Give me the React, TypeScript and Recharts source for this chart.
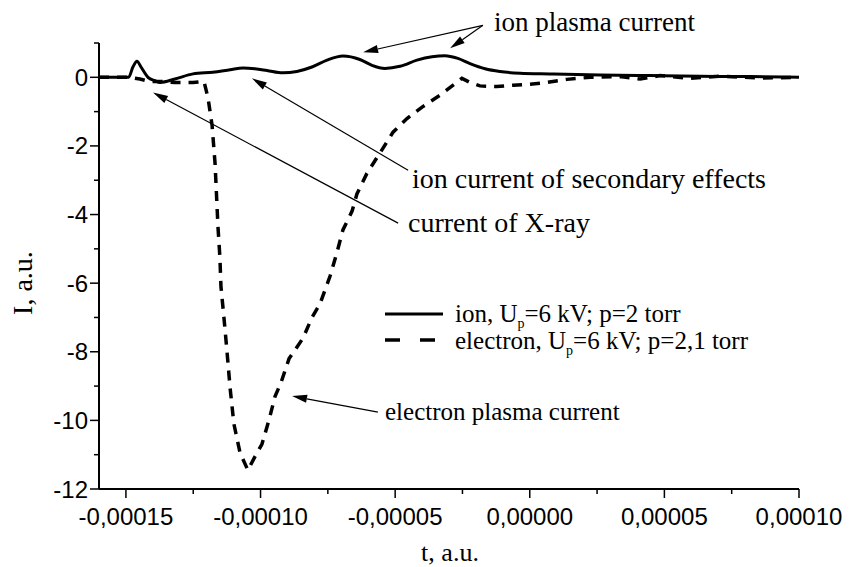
import React from "react";
import { LineChart, Line, XAxis, YAxis, ReferenceLine } from "recharts";

// ion current, solid trace
const ionT = [
  -0.00016, -0.000152, -0.000149, -0.0001474, -0.0001459, -0.0001444, -0.0001418,
  -0.0001392, -0.0001373, -0.0001318, -0.0001251, -0.0001177, -0.0001113, -0.0001065,
  -0.0001021, -0.0000976, -0.0000917, -0.0000865, -0.0000809, -0.0000753, -0.0000694,
  -0.0000631, -0.0000586, -0.0000538, -0.0000482, -0.0000419, -0.0000363, -0.0000315,
  -0.0000267, -0.0000222, -0.0000166, -0.0000111, -0.0000036, 0.0000075, 0.0000261,
  0.0000447, 0.0000632, 0.0000818, 0.0001,
];
const ionI = [
  0, 0, 0, 0.3, 0.47, 0.3, 0, -0.1, -0.15, -0.05, 0.1, 0.15, 0.22, 0.27, 0.25, 0.2, 0.13,
  0.17, 0.3, 0.5, 0.62, 0.52, 0.35, 0.26, 0.32, 0.5, 0.6, 0.63, 0.55, 0.4, 0.25, 0.17, 0.12,
  0.1, 0.07, 0.05, 0.03, 0.02, 0,
];

// electron current, dashed trace
const elT = [
  -0.00016, -0.0001485, -0.0001448, -0.0001411, -0.0001373, -0.0001318, -0.0001251,
  -0.000121, -0.0001195, -0.000118, -0.0001169, -0.0001164, -0.0001158, -0.0001151,
  -0.0001147, -0.0001136, -0.0001125, -0.0001113, -0.0001099, -0.0001076, -0.0001047,
  -0.0001017, -0.0000995, -0.0000969, -0.0000946, -0.0000924, -0.0000894, -0.0000842,
  -0.0000809, -0.0000779, -0.0000742, -0.0000716, -0.0000694, -0.000066, -0.0000642,
  -0.0000605, -0.0000556, -0.0000508, -0.0000456, -0.00004, -0.0000333, -0.0000252,
  -0.0000222, -0.0000185, -0.0000122, -0.0000062, 0.0000001, 0.0000064, 0.0000138,
  0.0000224, 0.0000335, 0.000041, 0.0000484, 0.0000595, 0.0000707, 0.0000855, 0.0001,
];
const elI = [
  0, 0, -0.05, -0.12, -0.12, -0.15, -0.15, -0.12, -0.6, -1.4, -2.5, -3.35, -4.37, -5.24,
  -6.1, -7.0, -7.95, -9.06, -10.1, -10.95, -11.45, -11.0, -10.7, -10.0, -9.3, -8.9, -8.2,
  -7.6, -7.0, -6.6, -5.8, -5.1, -4.45, -3.9, -3.4, -2.8, -2.2, -1.6, -1.2, -0.87, -0.52,
  -0.03, -0.15, -0.25, -0.27, -0.23, -0.2, -0.15, -0.06, 0, 0.02, -0.05, 0.05, -0.03, 0.03,
  -0.02, 0,
];

const xTicks = [
  -0.00015, -0.000125, -0.0001, -0.000075, -0.00005, -0.000025, 0, 0.000025, 0.00005,
  0.000075, 0.0001,
];
const xMajor = [-0.00015, -0.0001, -0.00005, 0, 0.00005, 0.0001];
const yTicks = [1, 0, -1, -2, -3, -4, -5, -6, -7, -8, -9, -10, -11, -12];
const yMajor = [0, -2, -4, -6, -8, -10, -12];

// annotation arrows: tail -> head, in data units
const arrows = [
  { t1: -0.0000174, i1: 1.515, t2: -0.0000619, i2: 0.73 },
  { t1: -0.0000174, i1: 1.515, t2: -0.0000296, i2: 0.845 },
  { t1: -0.0000452, i1: -2.71, t2: -0.0001032, i2: -0.03 },
  { t1: -0.0000489, i1: -4.25, t2: -0.00013994, i2: -0.44 },
  { t1: -0.0000564, i1: -9.76, t2: -0.0000883, i2: -9.29 },
];

const ionData = ionT.map((t, k) => ({ t, i: ionI[k] }));
const elData = elT.map((t, k) => ({ t, i: elI[k] }));

const SANS = "Arial, 'Liberation Sans', sans-serif";
const SERIF = "'Times New Roman', 'Liberation Serif', serif";

const isIn = (list: number[], v: number) => list.some((m) => Math.abs(m - v) < 1e-9);

function fmtX(v: number) {
  return v.toFixed(5).replace(".", ",");
}

function XTick(props: any) {
  const { x, y, payload } = props;
  const major = isIn(xMajor, payload.value);
  return (
    <g>
      <line x1={x} x2={x} y1={y} y2={y + (major ? 9 : 5)} stroke="#000" strokeWidth={1.5} />
      {major && (
        <text x={x} y={y + 36} textAnchor="middle" fontFamily={SANS} fontSize={24} fill="#000">
          {fmtX(payload.value)}
        </text>
      )}
    </g>
  );
}

function YTick(props: any) {
  const { x, y, payload } = props;
  const major = isIn(yMajor, payload.value);
  return (
    <g>
      <line x1={x} x2={x - (major ? 9 : 5)} y1={y} y2={y} stroke="#000" strokeWidth={1.5} />
      {major && (
        <text x={x - 11} y={y + 8.5} textAnchor="end" fontFamily={SANS} fontSize={24} fill="#000">
          {payload.value}
        </text>
      )}
    </g>
  );
}

function Arrow(props: any) {
  const { x1, y1, x2, y2 } = props;
  const dx = x2 - x1;
  const dy = y2 - y1;
  const len = Math.sqrt(dx * dx + dy * dy) || 1;
  const ux = dx / len;
  const uy = dy / len;
  const hl = 15;
  const hw = 4;
  const bx = x2 - ux * hl;
  const by = y2 - uy * hl;
  return (
    <g>
      <line x1={x1} y1={y1} x2={bx} y2={by} stroke="#000" strokeWidth={1.2} />
      <polygon
        points={`${x2},${y2} ${bx - uy * hw},${by + ux * hw} ${bx + uy * hw},${by - ux * hw}`}
        fill="#000"
      />
    </g>
  );
}

const note = (left: number, top: number, size = 28): React.CSSProperties => ({
  position: "absolute",
  left,
  top,
  fontFamily: SERIF,
  fontSize: size,
  lineHeight: 0.9,
  whiteSpace: "nowrap",
  color: "#000",
});

const sub: React.CSSProperties = { fontSize: 14, verticalAlign: -6, lineHeight: 0 };

export default function App() {
  return (
    <div style={{ position: "absolute", left: 0, top: 0, width: 850, height: 567, background: "#fff" }}>
      <LineChart width={850} height={567} margin={{ top: 43, right: 51, bottom: 0, left: 0 }}>
        <XAxis
          type="number"
          dataKey="t"
          domain={[-0.00016, 0.0001]}
          ticks={xTicks}
          interval={0}
          height={78}
          tickSize={0}
          tickMargin={0}
          tickLine={false}
          tick={<XTick />}
          axisLine={{ stroke: "#000", strokeWidth: 2 }}
          allowDataOverflow
        />
        <YAxis
          type="number"
          dataKey="i"
          domain={[-12, 1]}
          ticks={yTicks}
          interval={0}
          width={99}
          tickSize={0}
          tickMargin={0}
          tickLine={false}
          tick={<YTick />}
          axisLine={{ stroke: "#000", strokeWidth: 2 }}
          allowDataOverflow
        />
        {arrows.map((a, k) => (
          <ReferenceLine
            key={k}
            segment={[
              { x: a.t1, y: a.i1 },
              { x: a.t2, y: a.i2 },
            ]}
            ifOverflow="visible"
            shape={<Arrow />}
          />
        ))}
        <Line
          data={elData}
          dataKey="i"
          type="linear"
          stroke="#000"
          strokeWidth={3.5}
          strokeDasharray="10 8"
          dot={false}
          isAnimationActive={false}
        />
        <Line
          data={ionData}
          dataKey="i"
          type="monotone"
          stroke="#000"
          strokeWidth={3}
          dot={false}
          isAnimationActive={false}
        />
      </LineChart>

      <div style={note(494, 10, 27)}>ion plasma current</div>
      <div style={note(412, 166)}>ion current of secondary effects</div>
      <div style={note(408, 210)}>current of X-ray</div>
      <div style={note(385, 401, 25)}>electron plasma current</div>

      <svg style={{ position: "absolute", left: 380, top: 298 }} width={70} height={54}>
        <line x1={5} x2={63} y1={16} y2={16} stroke="#000" strokeWidth={3} />
        <line x1={5} x2={63} y1={42} y2={42} stroke="#000" strokeWidth={3.5} strokeDasharray="15 20" />
      </svg>
      <div style={note(455, 303, 25)}>
        ion, U<sub style={sub}>p</sub>=6 kV; p=2 torr
      </div>
      <div style={note(455, 330, 25)}>
        electron, U<sub style={sub}>p</sub>=6 kV; p=2,1 torr
      </div>

      <div style={{ ...note(450, 541, 26), transform: "translateX(-50%)" }}>t, a.u.</div>
      <div
        style={{
          ...note(23, 283, 28),
          transform: "translate(-50%, -50%) rotate(-90deg)",
        }}
      >
        I, a.u.
      </div>
    </div>
  );
}
